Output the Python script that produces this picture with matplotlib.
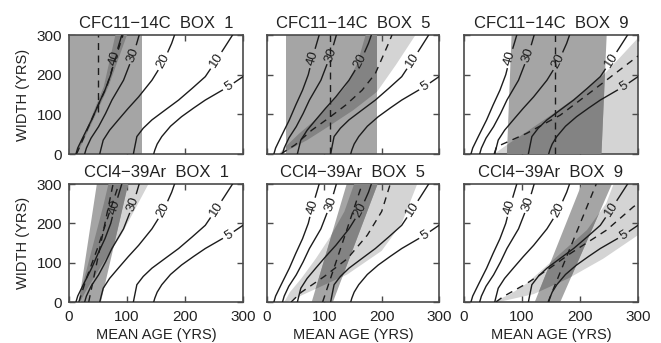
import numpy as np
import matplotlib.pyplot as plt
from matplotlib.patches import Polygon

plt.rcParams['font.family'] = ['Liberation Sans', 'DejaVu Sans']

MED = '#a5a5a5'
LIGHT = '#d4d4d4'
DARK = '#838383'
INK = '#1c1c1c'
FRAME = '#4a4a4a'

titles = ['CFC11\u221214C  BOX  1', 'CFC11\u221214C  BOX  5', 'CFC11\u221214C  BOX  9',
          'CCl4\u221239Ar  BOX  1', 'CCl4\u221239Ar  BOX  5', 'CCl4\u221239Ar  BOX  9']
ticks = [0, 100, 200, 300]

# contour lines, same in every panel (x = mean age, y = width)
levels = ['40', '30', '20', '10', '5']
cont_x = [
    [12, 15, 25, 39, 50, 62, 72, 79, 91],
    [27, 30, 38, 51, 63, 74, 94, 111, 121],
    [53, 55, 59, 70, 85, 102, 120, 143, 163, 177, 182],
    [111, 113, 117, 128, 143, 165, 189, 212, 235, 252, 268, 282],
    [146, 148, 152, 160, 175, 194, 215, 235, 255, 275, 300],
]
cont_y = [
    [0, 15, 45, 86, 123, 161, 200, 241, 300],
    [0, 15, 40, 69, 102, 136, 186, 250, 300],
    [0, 12, 35, 60, 86, 115, 144, 186, 233, 279, 300],
    [0, 15, 44, 65, 86, 110, 136, 165, 195, 232, 268, 300],
    [0, 10, 25, 44, 70, 94, 116, 136, 153, 170, 195],
]
label_y = [241, 250, 233, 236, 170]

# first tracer range (14C / 39Ar): x at width 0 (lo, hi) and at width 300 (lo, hi)
band_a = [
    [0, 126, 0, 126],
    [33, 191, 33, 191],
    [74, 237, 82, 246],
    [17, 55, 48, 102],
    [78, 115, 139, 193],
    [122, 166, 203, 255],
]

# second tracer range (CFC11 / CCl4): left and right edges
band_d_lx = [
    [12, 35, 60, 80],
    [20, 32, 55, 84, 110, 137, 158, 172],
    [52, 74, 108, 154, 194, 240, 270, 308],
    [15, 30, 45, 60, 68],
    [30, 40, 60, 85, 110, 135, 152],
    [50, 80, 108, 160, 212, 245, 258],
]
band_d_ly = [
    [0, 80, 170, 300],
    [0, 18, 50, 86, 125, 170, 230, 300],
    [0, 23, 56, 102, 144, 199, 245, 305],
    [0, 80, 165, 250, 300],
    [0, 25, 60, 110, 165, 230, 300],
    [0, 20, 47, 115, 183, 250, 300],
]
band_d_rx = [
    [14, 40, 68, 100],
    [26, 40, 70, 107, 150, 192, 225, 259],
    [56, 340, 340],
    [19, 30, 55, 90, 137],
    [35, 80, 140, 200, 235, 262],
    [60, 120, 180, 240, 300, 330, 330],
]
band_d_ry = [
    [0, 80, 170, 300],
    [0, 12, 35, 69, 110, 157, 225, 300],
    [0, 0, 330],
    [0, 30, 90, 170, 300],
    [0, 30, 70, 130, 200, 300],
    [0, 20, 60, 110, 170, 200, 300],
]

# best estimates (dashed)
dash_a_x = [[50, 50], [110, 110], [157, 157], [34, 76], [97, 166], [145, 228]]
dash_a_y = [[105, 300], [0, 300], [0, 300], [0, 300], [0, 300], [0, 300]]
dash_d_x = [
    [13, 37, 65, 93],
    [24, 49, 78, 107, 137, 166, 189, 212, 218],
    [52, 56, 108, 166, 223, 291, 300],
    [17, 30, 50, 86],
    [42, 60, 100, 140, 175, 200, 215],
    [55, 68, 108, 143, 183, 246, 292, 300],
]
dash_d_y = [
    [0, 80, 170, 300],
    [0, 23, 60, 90, 123, 161, 203, 279, 300],
    [0, 18, 52, 98, 161, 237, 247],
    [0, 60, 140, 300],
    [0, 25, 65, 110, 170, 230, 300],
    [0, 14, 47, 81, 123, 183, 242, 250],
]

SX, SY = 173 / 300, 119 / 300


def draw_contour(ax, xs, ys, ly, text):
    xs = np.asarray(xs, float)
    ys = np.asarray(ys, float)
    s = np.concatenate([[0], np.cumsum(np.hypot(np.diff(xs) * SX, np.diff(ys) * SY))])
    sc = np.interp(ly, ys, s)
    half = 3.5 + 3.6 * len(text)
    for lo, hi in [(0, sc - half), (sc + half, s[-1])]:
        inside = (s > lo) & (s < hi)
        ss = np.concatenate([[lo], s[inside], [hi]])
        ax.plot(np.interp(ss, s, xs), np.interp(ss, s, ys), color=INK, lw=1.0, zorder=5)
    cx, cy = np.interp(sc, s, xs), np.interp(sc, s, ys)
    dx = (np.interp(sc + 3, s, xs) - np.interp(sc - 3, s, xs)) * SX
    dy = (np.interp(sc + 3, s, ys) - np.interp(sc - 3, s, ys)) * SY
    ang = np.degrees(np.arctan2(dy, dx))
    ax.text(cx, cy, text, rotation=ang, rotation_mode='anchor', ha='center',
            va='center', fontsize=9.5, color=INK, zorder=6)


fig = plt.figure(figsize=(6.61, 3.43), dpi=100)
col_left = [69, 267, 464]
col_w = [174, 172, 174]
row_top = [35, 184]
row_h = [119, 118]

for i in range(6):
    r, c = divmod(i, 3)
    ax = fig.add_axes([col_left[c] / 661, (343 - row_top[r] - row_h[r]) / 343,
                       col_w[c] / 661, row_h[r] / 343])
    ax.set_xlim(0, 300)
    ax.set_ylim(0, 300)

    a0, a1, b0, b1 = band_a[i]
    pa = Polygon([(a0, 0), (a1, 0), (b1, 300), (b0, 300)], closed=True,
                 fc=MED, ec='none', zorder=2)
    d_pts = list(zip(band_d_lx[i], band_d_ly[i])) + list(zip(band_d_rx[i], band_d_ry[i]))[::-1]
    pd = Polygon(d_pts, closed=True, fc=LIGHT, ec='none', zorder=1)
    pdd = Polygon(d_pts, closed=True, fc=DARK, ec='none', zorder=3)
    ax.add_patch(pd)
    ax.add_patch(pa)
    ax.add_patch(pdd)
    pdd.set_clip_path(pa)

    ax.plot(dash_a_x[i], dash_a_y[i], color=INK, lw=1.0, dashes=(5, 4), zorder=4)
    ax.plot(dash_d_x[i], dash_d_y[i], color=INK, lw=1.0, dashes=(5, 4), zorder=4)

    for k in range(len(levels)):
        draw_contour(ax, cont_x[k], cont_y[k], label_y[k], levels[k])

    ax.set_xticks(ticks)
    ax.set_yticks(ticks)
    ax.tick_params(direction='in', top=True, right=True, length=4, width=1,
                   color=FRAME, labelsize=11, labelcolor='#222222')
    ax.tick_params(axis='x', pad=6)
    ax.tick_params(axis='y', pad=5)
    if r == 0:
        ax.tick_params(labelbottom=False)
    else:
        ax.set_xlabel('MEAN AGE (YRS)', fontsize=10.5, color='#222222', labelpad=3)
    if c == 0:
        ax.set_ylabel('WIDTH (YRS)', fontsize=10.5, color='#222222', labelpad=5)
    else:
        ax.tick_params(labelleft=False)
    for sp in ax.spines.values():
        sp.set_color(FRAME)
        sp.set_linewidth(1.2)
    ax.set_title(titles[i], fontsize=12, pad=5, color='#222222')

fig.savefig('out.png', dpi=100)
